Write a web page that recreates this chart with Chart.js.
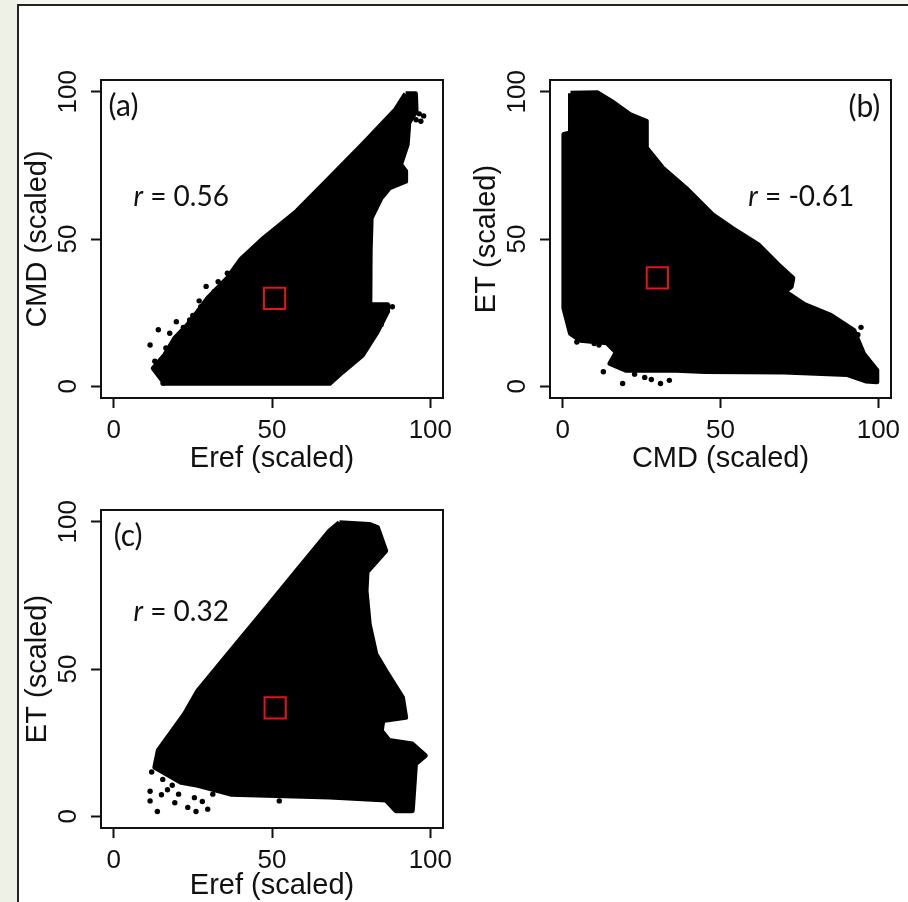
<!DOCTYPE html>
<html>
<head>
<meta charset="utf-8">
<script src="https://cdn.jsdelivr.net/npm/chart.js@4.4.1/dist/chart.umd.min.js"></script>
<style>
  html, body { margin: 0; padding: 0; background: #fff; }
  #page { position: relative; width: 908px; height: 902px; overflow: hidden; background: #fff; }
  #page canvas { position: absolute; }
  .edge-left { position: absolute; left: 0; top: 0; width: 18px; height: 902px; background: #eef1e5; }
  .edge-top { position: absolute; left: 18px; top: 0; width: 890px; height: 5px; background: #f4f6ef; }
  .frame { position: absolute; left: 17px; top: 4px; width: 891px; height: 898px; border-left: 2px solid #222; border-top: 2px solid #222; box-sizing: border-box; }
</style>
</head>
<body>
<div id="page">
  <div class="edge-left"></div>
  <div class="edge-top"></div>
  <div class="frame"></div>
  <canvas id="panelA" width="460" height="480" style="left:0;top:0"></canvas>
  <canvas id="panelB" width="459" height="480" style="left:449px;top:0"></canvas>
  <canvas id="panelC" width="460" height="472" style="left:0;top:430px"></canvas>
</div>
<script>
// ============================================================
// Scaled-variable scatter panels (a) Eref/CMD, (b) CMD/ET, (c) Eref/ET
// ============================================================

const axisTicks = [0, 50, 100];

// (a) outline of the point cloud [x, y]
const cloudA = [[92.2,99.3],[95.3,99.3],[95.5,93.4],[93.2,89.5],[92.7,82.1],[90.6,75.3],[92.2,73],[92.2,69.6],
  [87,67.3],[84.4,63.9],[81.3,57.1],[81,46],[80.9,27.7],[86.5,27.7],[86.5,25.4],[83.3,18.6],[78.6,10.6],
  [72.4,5],[68.2,1],[16.1,1],[12.5,6.1],[16.1,10.6],[19.3,16.3],[23.4,20.9],[26.6,25.4],[29.7,29.9],
  [35.9,36.7],[40.1,43],[47.4,50.3],[57.8,59.4],[68.2,70.7],[78.6,82.1],[89.1,94]];
const looseA = [[96.5,92.5],[97.9,91.8],[95.5,90.5],[97,90],[11.5,14],[14.1,19.2],[17.7,18],[19.8,21.9],
  [29.2,33.9],[31.8,32.2],[35.9,38.4],[15.6,1],[13,8.5],[21.5,17.5],[25,24],[27.5,27],[84.5,21],[88,27],
  [16.5,13],[22,20],[24,22.5],[27,29],[33,35.5],[38.5,39.5]];
const meanA = [[50.8, 29.8]];

// (b)
const cloudB = [[2.5,99.5],[10.9,99.7],[16.1,96.3],[21.3,92.3],[26.5,90],[26.5,81],[31.7,74.1],[39,67.3],
  [47.4,58.3],[53.6,53.7],[61.9,48.1],[68.2,41.3],[72.9,36.7],[72.4,33.9],[70.3,32.2],[76.6,27.7],
  [84.9,24.1],[92.2,19],[95.3,11],[99.5,5.4],[99.5,1.5],[96,1.8],[90,4],[70,4.8],[45,5],[36,5.4],
  [20,5.4],[15,7.7],[17,11.5],[14,14.8],[5.6,15.6],[2.5,17.9],[0.4,26.5],[0.4,85.5],[2.5,86]];
const looseB = [[12.9,4.9],[19,0.9],[22.8,4.1],[26,3],[28.1,2.3],[31,0.9],[33.8,2],[38,6],[4.5,15],
  [10,14.5],[11.5,14],[93.5,17.5],[94.5,20],[18,12.5],[21,9]];
const meanB = [[30, 36.8]];

// (c)
const cloudC = [[71.3,99.7],[80.7,99.1],[83.3,98],[85.9,90.1],[80,83],[79.7,76.6],[80.7,65.2],[82.8,55],
  [85.9,49.4],[91.2,40.3],[92.2,33.6],[85,32.5],[84.5,29],[87,25.7],[94.3,24.5],[98.4,20.6],[95.3,17.8],
  [94.8,9.7],[94.3,1.9],[89.1,1.9],[86,5.5],[68.2,6.5],[37,7.5],[26.6,10.5],[21.3,11.5],[13,16.6],
  [14.1,22.3],[22.4,34.7],[26.6,42.6],[37,56.2],[47.4,69.7],[57.8,83.3],[63,90.1],[68.2,96.9]];
const looseC = [[11.5,5.2],[13.8,1.6],[15.1,7.3],[19.3,4.6],[23.4,3],[26,1.6],[29.7,2.4],[25.5,6.3],
  [31.3,7.5],[52.3,5.2],[11.5,8.5],[17,9],[20.5,7.5],[28,5],[12,15],[15.5,12.5],[18.5,10.5]];
const meanC = [[51, 36.8]];

const AXIS_FONT = '"Liberation Sans", Arial, Helvetica, sans-serif';
const NOTE_FONT = 'Lato, "Open Sans", sans-serif';

const toXY = arr => arr.map(([x, y]) => ({ x, y }));

// box round the plot region (R style)
const frameBox = {
  id: 'frameBox',
  afterDraw(chart) {
    const { ctx, chartArea: a } = chart;
    ctx.save();
    ctx.strokeStyle = '#111';
    ctx.lineWidth = 2;
    ctx.strokeRect(a.left, a.top, a.right - a.left, a.bottom - a.top);
    ctx.restore();
  },
};

// panel letter and correlation text, placed in data units
const panelNotes = {
  id: 'panelNotes',
  afterDraw(chart, args, opts) {
    const { ctx, scales: { x, y } } = chart;
    ctx.save();
    ctx.fillStyle = '#111';
    ctx.textAlign = 'left';
    ctx.textBaseline = 'middle';
    ctx.font = '30px ' + NOTE_FONT;
    ctx.fillText(opts.letter, x.getPixelForValue(opts.letterAt[0]), y.getPixelForValue(opts.letterAt[1]));

    const rx = x.getPixelForValue(opts.rAt[0]);
    const ry = y.getPixelForValue(opts.rAt[1]);
    ctx.textBaseline = 'alphabetic';
    ctx.font = 'italic 28px ' + NOTE_FONT;
    ctx.fillText('r', rx, ry);
    const w = ctx.measureText('r').width;
    ctx.font = '28px ' + NOTE_FONT;
    ctx.fillText(' = ' + opts.r, rx + w, ry);
    ctx.restore();
  },
};

function makePanel(id, cfg) {
  const datasets = [
    {
      data: toXY(cfg.mean),
      pointStyle: 'rect',
      pointRadius: 15,
      backgroundColor: 'rgba(0,0,0,0)',
      borderColor: '#e3141c',
      borderWidth: 2,
    },
    {
      data: toXY(cfg.loose),
      pointStyle: 'circle',
      pointRadius: 2.7,
      backgroundColor: '#000',
      borderWidth: 0,
    },
    {
      type: 'line',
      data: toXY(cfg.cloud.concat([cfg.cloud[0]])),
      fill: 'shape',
      backgroundColor: '#000',
      borderColor: '#000',
      borderWidth: 5,
      borderJoinStyle: 'round',
      pointRadius: 0,
      tension: 0,
    },
  ];

  new Chart(document.getElementById(id), {
    type: 'scatter',
    data: { datasets },
    options: {
      responsive: false,
      animation: false,
      devicePixelRatio: 1,
      layout: { padding: { left: 0, top: 80, right: cfg.padRight, bottom: 0 } },
      plugins: {
        legend: { display: false },
        tooltip: { enabled: false },
        panelNotes: cfg.notes,
      },
      scales: {
        x: {
          type: 'linear',
          min: -4,
          max: 104,
          afterBuildTicks: s => { s.ticks = axisTicks.map(v => ({ value: v })); },
          afterFit: s => { s.height = cfg.xHeight; },
          border: { display: false },
          grid: { drawOnChartArea: false, drawTicks: true, tickLength: 10, tickWidth: 2, tickColor: '#111' },
          ticks: { color: '#111', autoSkip: false, maxRotation: 0, minRotation: 0, padding: 7,
            font: { family: AXIS_FONT, size: 26 } },
          title: { display: true, text: cfg.xTitle, color: '#111',
            font: { family: AXIS_FONT, size: 29, lineHeight: 1 }, padding: { top: 0, bottom: cfg.xTitlePad } },
        },
        y: {
          type: 'linear',
          min: -4,
          max: 104,
          afterBuildTicks: s => { s.ticks = axisTicks.map(v => ({ value: v })); },
          afterFit: s => { s.width = 101; },
          border: { display: false },
          grid: { drawOnChartArea: false, drawTicks: true, tickLength: 10, tickWidth: 2, tickColor: '#111' },
          ticks: { color: '#111', autoSkip: false, minRotation: 90, maxRotation: 90, crossAlign: 'center', padding: 0,
            font: { family: AXIS_FONT, size: 26 } },
          title: { display: true, text: cfg.yTitle, color: '#111',
            font: { family: AXIS_FONT, size: 29, lineHeight: 1 }, padding: { top: 23, bottom: 0 } },
        },
      },
    },
    plugins: [frameBox, panelNotes],
  });
}

makePanel('panelA', {
  cloud: cloudA, loose: looseA, mean: meanA,
  xTitle: 'Eref (scaled)', yTitle: 'CMD (scaled)',
  padRight: 12, xHeight: 82, xTitlePad: 7,
  notes: { letter: '(a)', letterAt: [-1.6, 95.1], r: '0.56', rAt: [6.25, 61.2] },
});

makePanel('panelB', {
  cloud: cloudB, loose: looseB, mean: meanB,
  xTitle: 'CMD (scaled)', yTitle: 'ET (scaled)',
  padRight: 11, xHeight: 82, xTitlePad: 7,
  notes: { letter: '(b)', letterAt: [90.5, 94.8], r: '-0.61', rAt: [58.8, 61.2] },
});

makePanel('panelC', {
  cloud: cloudC, loose: looseC, mean: meanC,
  xTitle: 'Eref (scaled)', yTitle: 'ET (scaled)',
  padRight: 12, xHeight: 74, xTitlePad: 1.5,
  notes: { letter: '(c)', letterAt: [0, 95.1], r: '0.32', rAt: [6.25, 66.2] },
});
</script>
</body>
</html>
